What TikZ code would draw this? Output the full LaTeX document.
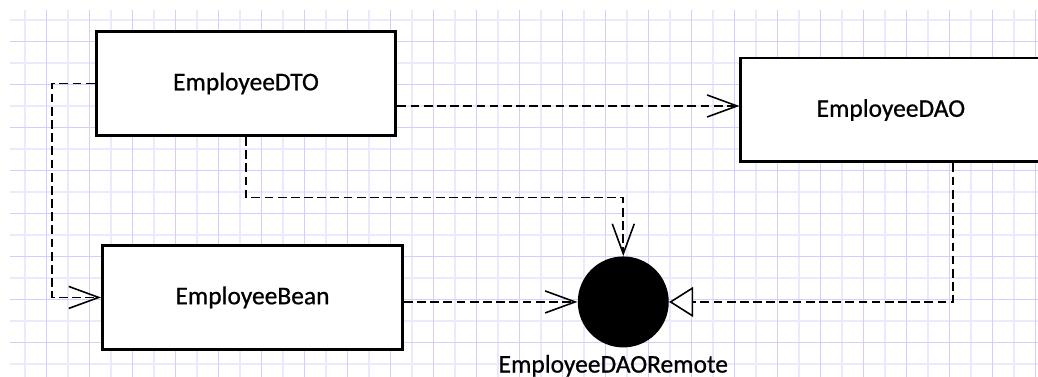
\documentclass[tikz,border=0pt]{standalone}
\usepackage{fontspec}
\setmainfont{Carlito}
\newfontfamily\umlfont{Carlito}[BoldFont=Carlito, BoldFeatures={FakeBold=0.7}]
\usepackage{xcolor}
\usepackage{tikz}
\usetikzlibrary{arrows.meta,positioning,calc}

\definecolor{gridlight}{RGB}{234,234,255}
\definecolor{griddark}{RGB}{208,208,252}

\begin{document}
\begin{tikzpicture}[
  x=0.02cm, y=-0.02cm,
  node distance=2cm,
  cls/.style={rectangle, draw=black, line width=1.7pt, fill=white, minimum width=6cm, minimum height=2.08cm, align=center, font=\umlfont\bfseries\fontsize{14.5}{17}\selectfont},
  iface/.style={circle, fill=black, inner sep=0pt, minimum size=1.82cm},
  lbl/.style={font=\umlfont\bfseries\fontsize{14.5}{17}\selectfont, inner sep=1pt},
  dep/.style={draw=black, line width=0.9pt, dash pattern=on 5pt off 2.5pt, -{Straight Barb[length=0.6cm, width=0.44cm]}},
  impl/.style={draw=black, line width=0.9pt, dash pattern=on 5pt off 2.5pt, -{Triangle[open, fill=white, length=0.48cm, width=0.6cm]}}
]
  \useasboundingbox (0,0) rectangle (1038,377);
  % grid paper
  \foreach \i in {0,2,...,46} \draw[gridlight, line width=0.8pt] (25+21.5*\i,10) -- (25+21.5*\i,377);
  \foreach \j in {0,2,...,16} \draw[gridlight, line width=0.8pt] (10,20+21.5*\j) -- (1038,20+21.5*\j);
  \foreach \i in {1,3,...,47} \draw[griddark, line width=0.8pt] (25+21.5*\i,10) -- (25+21.5*\i,377);
  \foreach \j in {1,3,...,15} \draw[griddark, line width=0.8pt] (10,20+21.5*\j) -- (1038,20+21.5*\j);

  \node[cls] (dto) at (246,83.5) {EmployeeDTO};
  \node[cls, below=2.14cm of dto, xshift=0.13cm] (bean) {EmployeeBean};
  \node[cls, right=6.84cm of dto, yshift=-0.53cm] (dao) {EmployeeDAO};
  \node[iface, right=3.47cm of bean, yshift=-0.09cm] (remote) {};
  \node[lbl, below=0.1cm of remote, xshift=-0.2cm] (remote-lbl) {EmployeeDAORemote};

  \draw[dep] (dto.west) -- ++(-42.5,0) |- (bean.west);
  \draw[dep] ([yshift=-0.45cm]dto.east) -- ([yshift=-0.45cm]dto.east -| dao.west);
  \draw[dep] (dto.south) -- ++(0,60.5) -| (remote.north);
  \draw[dep] (bean.east |- remote) -- (remote.west);
  \draw[impl] ([xshift=1.24cm]dao.south) |- (remote.east);
\end{tikzpicture}
\end{document}
